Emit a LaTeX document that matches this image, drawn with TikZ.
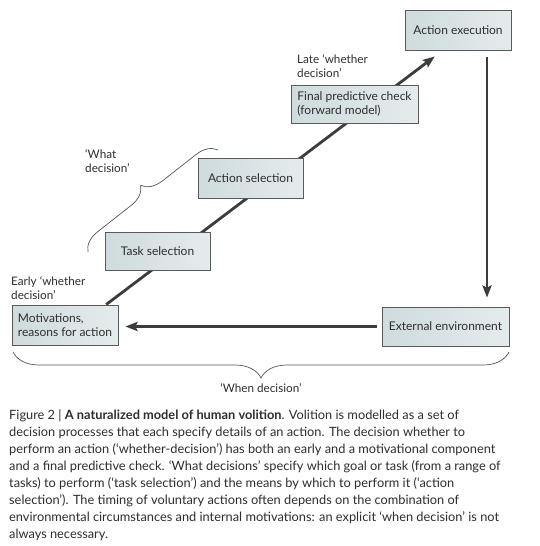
\documentclass[tikz,border=0pt]{standalone}
\usepackage{fontspec}
\setmainfont{Lato}
\usetikzlibrary{decorations.pathreplacing,arrows.meta,calc}
\definecolor{boxL}{HTML}{CFDBDE}
\definecolor{boxR}{HTML}{E4EBED}
\definecolor{boxline}{HTML}{5A5A5A}
\definecolor{lnc}{HTML}{3C3C3C}
\definecolor{txt}{HTML}{2E2E2E}
\definecolor{bracec}{HTML}{555555}
\pgfdeclarelayer{back}
\pgfdeclarelayer{bg}
\pgfsetlayers{back,bg,main}
\begin{document}
\begin{tikzpicture}[x=1pt,y=-1pt,
  box/.style={draw=boxline, line width=0.9pt, left color=boxL, right color=boxR,
    inner sep=0pt, font=\fontsize{12}{14}\selectfont, text=txt, align=left},
  conn/.style={draw=lnc, line width=2.8pt},
  arr/.style={conn, -{Stealth[length=12pt,width=9pt,inset=2pt]}},
  lbl/.style={font=\fontsize{11.7}{14}\selectfont, text=txt, align=left, inner sep=0pt},
  bracedeco/.style={draw=bracec, line width=0.7pt, decorate},
]
\useasboundingbox (0,0) rectangle (540,546);
\begin{pgfonlayer}{back}
\fill[white] (0,0) rectangle (540,546);
\end{pgfonlayer}

\node[box, minimum width=106pt, minimum height=40pt] (exec) at (458,30) {Action execution};
\node[box, minimum width=127pt, minimum height=38pt] (final) at (354.5,104) {Final predictive check\\(forward model)};
\node[box, minimum width=105pt, minimum height=40pt] (asel) at (250.5,178) {Action selection};
\node[box, minimum width=105pt, minimum height=38pt] (tsel) at (157.5,251) {Task selection};
\node[box, minimum width=106pt, minimum height=40pt] (motiv) at (65,325) {Motivations,\\reasons for action};
\node[box, minimum width=127pt, minimum height=39pt] (ext) at (445.5,326.5) {External environment};

\coordinate (s0) at ($(motiv.north west)!0.885!(motiv.north east)$);
\coordinate (s1) at ($(exec.south west)!0.283!(exec.south east)+(0,6)$);
\begin{pgfonlayer}{bg}
\draw[arr] (s0) -- (s1);
\end{pgfonlayer}

\draw[arr] ([xshift=29pt,yshift=-7pt]exec.south) -- ([xshift=41.5pt,yshift=9pt]ext.north);
\draw[arr] ([xshift=-5pt]ext.west) -- ([xshift=7pt]motiv.east |- ext.west);

\node[lbl, anchor=west] (late) at (297,66) {Late ‘whether\\decision’};
\node[lbl, anchor=west] (early) at (11,288.5) {Early ‘whether\\decision’};
\node[lbl, anchor=west] (what) at (85,161.5) {‘What\\decision’};

\coordinate (wb0) at (88,252);
\coordinate (wb1) at (218,150);
\draw[bracedeco, decoration={brace, amplitude=20pt}] (wb0) -- (wb1);

\coordinate (bb0) at (509,352);
\coordinate (bb1) at (13,352);
\draw[bracedeco, decoration={brace, amplitude=26pt}] (bb0) -- (bb1);
\node[lbl] (when) at (261,388) {‘When decision’};

\node[anchor=north west, align=left, inner sep=0pt, text=txt,
  font=\fontsize{12.8}{17.1}\selectfont] (cap) at (9,409)
{Figure 2 | \textbf{A naturalized model of human volition}. Volition is modelled as a set of\\
decision processes that each specify details of an action. The decision whether to\\
perform an action (‘whether-decision’) has both an early and a motivational component\\
and a final predictive check. ‘What decisions’ specify which goal or task (from a range of\\
tasks) to perform (‘task selection’) and the means by which to perform it (‘action\\
selection’). The timing of voluntary actions often depends on the combination of\\
environmental circumstances and internal motivations: an explicit ‘when decision’ is not\\
always necessary.};
\end{tikzpicture}
\end{document}
